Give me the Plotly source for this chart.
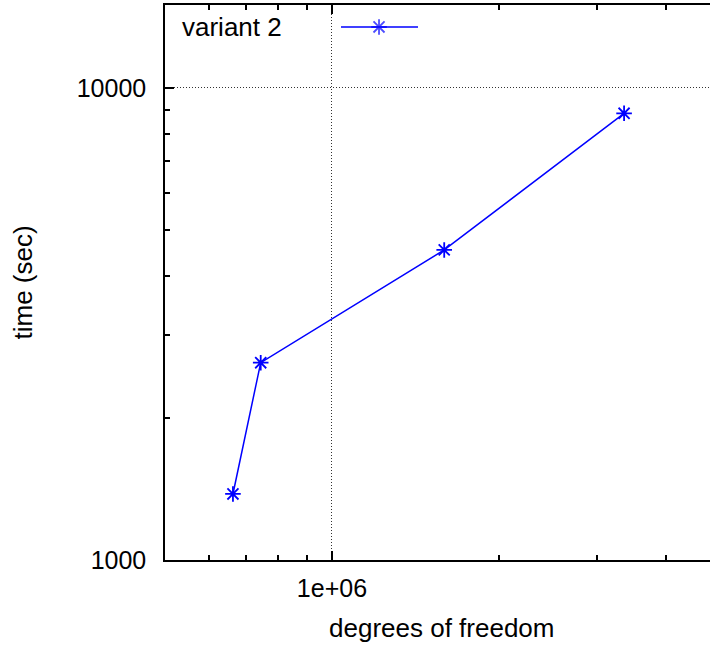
import numpy as np
import plotly.graph_objects as go

# ---- data ----
dof = [663000, 744000, 1594000, 3364000]
time_sec = [1380, 2618, 4538, 8839]
series_name = "variant 2"

x_major = [1e6]
x_major_text = ["1e+06"]
x_minor = [6e5, 7e5, 8e5, 9e5, 2e6, 3e6, 4e6]
y_major = [1000, 10000]
y_major_text = ["1000", "10000"]
y_minor = [2000, 3000, 4000, 5000, 6000, 7000, 8000, 9000]

x_title = "degrees of freedom"
y_title = "time (sec)"

BLUE = "#0000ff"
FONT = "Liberation Sans, Arial, sans-serif"
FS = 26
TFS = 25

fig = go.Figure()
fig.add_trace(go.Scatter(
    x=dof, y=time_sec, mode="lines+markers", name=series_name,
    line=dict(color=BLUE, width=1.5),
    marker=dict(symbol="asterisk-open", size=13, line=dict(color=BLUE, width=1.8)),
    showlegend=False,
))

# legend key sample (drawn on a hidden overlay axis in 0..1 units)
key_y = 0.9604
fig.add_trace(go.Scatter(
    x=[0.3229, 0.3927, 0.4642], y=[key_y, key_y, key_y],
    mode="lines+markers", xaxis="x2", yaxis="y2",
    line=dict(color=BLUE, width=1.5),
    marker=dict(symbol="asterisk-open", size=[0, 13, 0],
                line=dict(color=BLUE, width=1.8)),
    showlegend=False, hoverinfo="skip",
))

axis_common = dict(
    showline=True, linecolor="black", linewidth=1.5,
    ticks="inside", ticklen=9, tickwidth=1.5, tickcolor="black",
    tickfont=dict(family=FONT, size=TFS, color="black"),
    showgrid=True, gridcolor="#333333", gridwidth=1, griddash="1px,2px",
    zeroline=False, layer="above traces",
)

fig.update_layout(
    width=710, height=646,
    margin=dict(l=165, r=0, t=5, b=86, autoexpand=False),
    paper_bgcolor="white", plot_bgcolor="white",
    font=dict(family=FONT, size=FS, color="black"),
    showlegend=False,
    xaxis=dict(
        type="log", range=[np.log10(5e5), 6.6818],
        tickmode="array", tickvals=x_major, ticktext=x_major_text,
        mirror="ticks", ticklabelstandoff=5,
        minor=dict(tickmode="array", tickvals=x_minor, ticks="inside",
                   ticklen=5, tickwidth=1.5, tickcolor="black", showgrid=False),
        **axis_common,
    ),
    yaxis=dict(
        type="log", range=[3, 4.1758],
        tickmode="array", tickvals=y_major, ticktext=y_major_text,
        mirror=False, ticklabelstandoff=12,
        minor=dict(tickmode="array", tickvals=y_minor, ticks="inside",
                   ticklen=5, tickwidth=1.5, tickcolor="black", showgrid=False),
        **axis_common,
    ),
    xaxis2=dict(overlaying="x", range=[0, 1], visible=False, fixedrange=True),
    yaxis2=dict(overlaying="y", range=[0, 1], visible=False, fixedrange=True),
    shapes=[
        # opaque key box background (hides grid behind key)
        dict(type="rect", xref="paper", yref="paper", x0=0.01, x1=0.48,
             y0=0.932, y1=0.995, fillcolor="white", line=dict(width=0),
             layer="between"),
    ],
    annotations=[
        dict(text=series_name, xref="paper", yref="paper", x=0.028, y=key_y,
             xanchor="left", yanchor="middle", showarrow=False,
             font=dict(family=FONT, size=FS, color="black")),
        dict(text=x_title, xref="paper", yref="paper", x=0.508, y=-0.1225,
             xanchor="center", yanchor="middle", showarrow=False,
             font=dict(family=FONT, size=FS, color="black")),
        dict(text=y_title, xref="paper", yref="paper", x=-0.2606, y=0.5,
             xanchor="center", yanchor="middle", textangle=-90, showarrow=False,
             font=dict(family=FONT, size=FS, color="black")),
    ],
)

fig.write_html("out.html")
